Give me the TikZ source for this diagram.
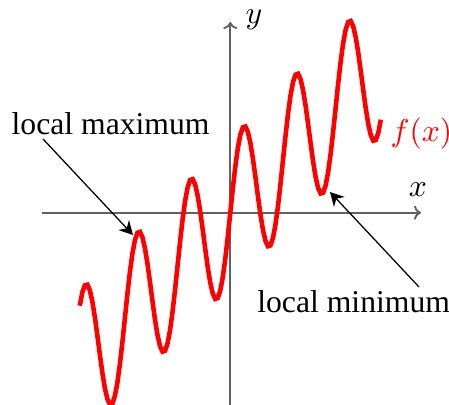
\documentclass[tikz,border=0pt]{standalone}
\usepackage{fontspec}
\setmainfont{Liberation Serif}
\usetikzlibrary{arrows.meta}
\begin{document}
\begin{tikzpicture}[x=0.3157pt,y=-0.3157pt,
  axis/.style={black!62, line width=0.6pt, -{To[length=2.2pt,width=4.5pt]}},
  note/.style={-{Stealth[length=4.3pt,width=4.6pt]}, line width=0.4pt},
  lbl/.style={inner sep=0pt, anchor=base west}]
\useasboundingbox (0,0) rectangle (449,405);
\coordinate (xl) at (42,212.7);
\coordinate (xr) at (421,212.7);
\coordinate (yb) at (230.3,405);
\coordinate (yt) at (230.3,22);
\draw[axis] (xl) -- (xr);
\draw[axis] (yb) -- (yt);
\node (xlabel) at (418,190) {$x$};
\node (ylabel) at (254,20) {$y$};
\draw[red, line width=1.45pt] plot[domain=-150.5:150.5, samples=121]
  ({230.3+\x}, {212.7 - (\x + 73*sin(\x*6.8311))});
\node[lbl, red] (fx) at (390,142) {$f(x)$};
\node[lbl] (lmax) at (11,135) {local maximum};
\node[lbl] (lmin) at (256.7,313) {local minimum};
\coordinate (amax) at (43,139);
\coordinate (pmax) at (133,235);
\coordinate (amin) at (419,287);
\coordinate (pmin) at (330,192);
\draw[note] (amax) -- (pmax);
\draw[note] (amin) -- (pmin);
\end{tikzpicture}
\end{document}
